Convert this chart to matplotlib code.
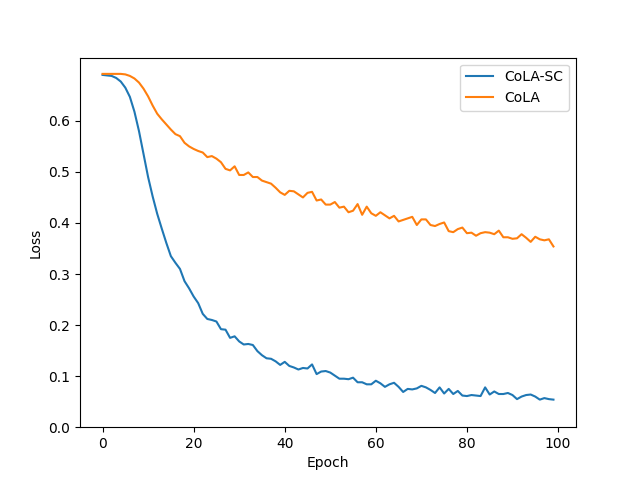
import matplotlib
matplotlib.use("Agg")
import matplotlib.pyplot as plt
import numpy as np

epochs = np.arange(100)

cola_sc_loss = [
    0.690, 0.689, 0.688, 0.684, 0.677, 0.665, 0.647, 0.618, 0.580, 0.535,
    0.490, 0.452, 0.418, 0.389, 0.361, 0.335, 0.322, 0.310, 0.286, 0.272,
    0.256, 0.243, 0.222, 0.212, 0.210, 0.207, 0.192, 0.191, 0.175, 0.178,
    0.168, 0.162, 0.163, 0.161, 0.149, 0.141, 0.135, 0.134, 0.129, 0.122,
    0.128, 0.120, 0.117, 0.113, 0.116, 0.115, 0.123, 0.104, 0.109, 0.110,
    0.107, 0.101, 0.095, 0.095, 0.094, 0.097, 0.088, 0.088, 0.084, 0.084,
    0.091, 0.086, 0.079, 0.084, 0.087, 0.079, 0.069, 0.075, 0.074, 0.076,
    0.081, 0.078, 0.073, 0.067, 0.078, 0.066, 0.075, 0.065, 0.071, 0.062,
    0.061, 0.063, 0.062, 0.061, 0.078, 0.064, 0.070, 0.065, 0.065, 0.067,
    0.063, 0.055, 0.060, 0.063, 0.064, 0.060, 0.054, 0.057, 0.055, 0.054,
]

cola_loss = [
    0.692, 0.692, 0.692, 0.692, 0.692, 0.691, 0.688, 0.683, 0.675, 0.663,
    0.648, 0.630, 0.614, 0.603, 0.593, 0.583, 0.574, 0.570, 0.557, 0.550,
    0.545, 0.541, 0.538, 0.529, 0.531, 0.526, 0.519, 0.506, 0.503, 0.511,
    0.494, 0.494, 0.499, 0.490, 0.490, 0.483, 0.480, 0.477, 0.469, 0.460,
    0.455, 0.463, 0.462, 0.456, 0.450, 0.459, 0.461, 0.444, 0.446, 0.436,
    0.436, 0.441, 0.430, 0.432, 0.421, 0.424, 0.437, 0.416, 0.432, 0.419,
    0.414, 0.421, 0.415, 0.409, 0.414, 0.403, 0.406, 0.409, 0.412, 0.396,
    0.407, 0.407, 0.396, 0.394, 0.398, 0.401, 0.384, 0.382, 0.388, 0.391,
    0.380, 0.381, 0.375, 0.380, 0.382, 0.381, 0.378, 0.385, 0.372, 0.372,
    0.369, 0.370, 0.378, 0.371, 0.363, 0.373, 0.368, 0.366, 0.368, 0.354,
]

y_ticks = [0.0, 0.1, 0.2, 0.3, 0.4, 0.5, 0.6]

fig, ax = plt.subplots(figsize=(6.4, 4.8), dpi=100)
ax.plot(epochs, cola_sc_loss, label="CoLA-SC")
ax.plot(epochs, cola_loss, label="CoLA")
ax.set_xlabel("Epoch")
ax.set_ylabel("Loss")
ax.set_ylim(0.0, None)
ax.set_yticks(y_ticks)
ax.legend(loc="upper right")

fig.savefig("out.png", dpi=100)
